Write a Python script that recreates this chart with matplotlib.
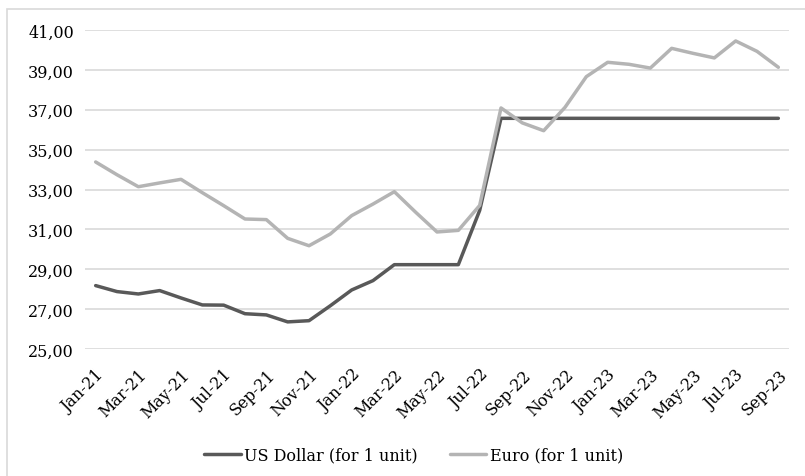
import numpy as np
import matplotlib.pyplot as plt
from matplotlib.patches import Rectangle

# monthly exchange rates, Jan-21 .. Sep-23
months = ['Jan-21', 'Feb-21', 'Mar-21', 'Apr-21', 'May-21', 'Jun-21', 'Jul-21', 'Aug-21',
          'Sep-21', 'Oct-21', 'Nov-21', 'Dec-21', 'Jan-22', 'Feb-22', 'Mar-22', 'Apr-22',
          'May-22', 'Jun-22', 'Jul-22', 'Aug-22', 'Sep-22', 'Oct-22', 'Nov-22', 'Dec-22',
          'Jan-23', 'Feb-23', 'Mar-23', 'Apr-23', 'May-23', 'Jun-23', 'Jul-23', 'Aug-23',
          'Sep-23']

usd = [28.18, 27.88, 27.76, 27.93, 27.56, 27.21, 27.20, 26.77,
       26.71, 26.36, 26.42, 27.17, 27.96, 28.43, 29.23, 29.23,
       29.23, 29.23, 31.95, 36.57, 36.57, 36.57, 36.57, 36.57,
       36.57, 36.57, 36.57, 36.57, 36.57, 36.57, 36.57, 36.57,
       36.57]

eur = [34.38, 33.74, 33.14, 33.33, 33.51, 32.84, 32.19, 31.52,
       31.49, 30.55, 30.18, 30.77, 31.69, 32.27, 32.89, 31.86,
       30.87, 30.95, 32.20, 37.09, 36.34, 35.95, 37.12, 38.66,
       39.38, 39.28, 39.09, 40.08, 39.83, 39.60, 40.45, 39.93,
       39.13]

yticks = np.arange(25, 42, 2)

plt.rcParams['font.family'] = ['DejaVu Serif']

fig = plt.figure(figsize=(8.05, 4.77), dpi=100)
ax = fig.add_axes([85 / 805, 1 - 350 / 477, (789 - 85) / 805, (350 - 31) / 477])

x = np.arange(len(months))
ax.plot(x, usd, color='#595959', lw=2.5, solid_capstyle='round', label='US Dollar (for 1 unit)')
ax.plot(x, eur, color='#b4b4b4', lw=2.5, solid_capstyle='round', label='Euro (for 1 unit)')

ax.set_xlim(-0.5, 32.5)
ax.set_ylim(25, 41)
ax.set_yticks(yticks)
ax.set_yticklabels([f'{v:.2f}'.replace('.', ',') for v in yticks], fontsize=11.5)
ax.set_xticks(x[::2])
ax.set_xticklabels(months[::2], rotation=45, ha='right', rotation_mode='anchor', fontsize=11.5)
ax.tick_params(length=0, pad=8)
ax.tick_params(axis='x', pad=12)
ax.grid(axis='y', color='#d9d9d9', lw=1.2)
ax.set_axisbelow(True)
for s in ax.spines.values():
    s.set_visible(False)

fig.legend(loc='center', bbox_to_anchor=(413.5 / 805, 1 - 456 / 477), ncol=2, frameon=False,
           fontsize=11.5, handlelength=2.3, handletextpad=0.2, columnspacing=2.0)

# light frame around the chart
fig.patches.append(Rectangle((7 / 805, -0.1), 1.1, 1.1 - 10 / 477, transform=fig.transFigure,
                             fill=False, edgecolor='#d9d9d9', lw=1.2))

fig.savefig('out.png', dpi=100)
